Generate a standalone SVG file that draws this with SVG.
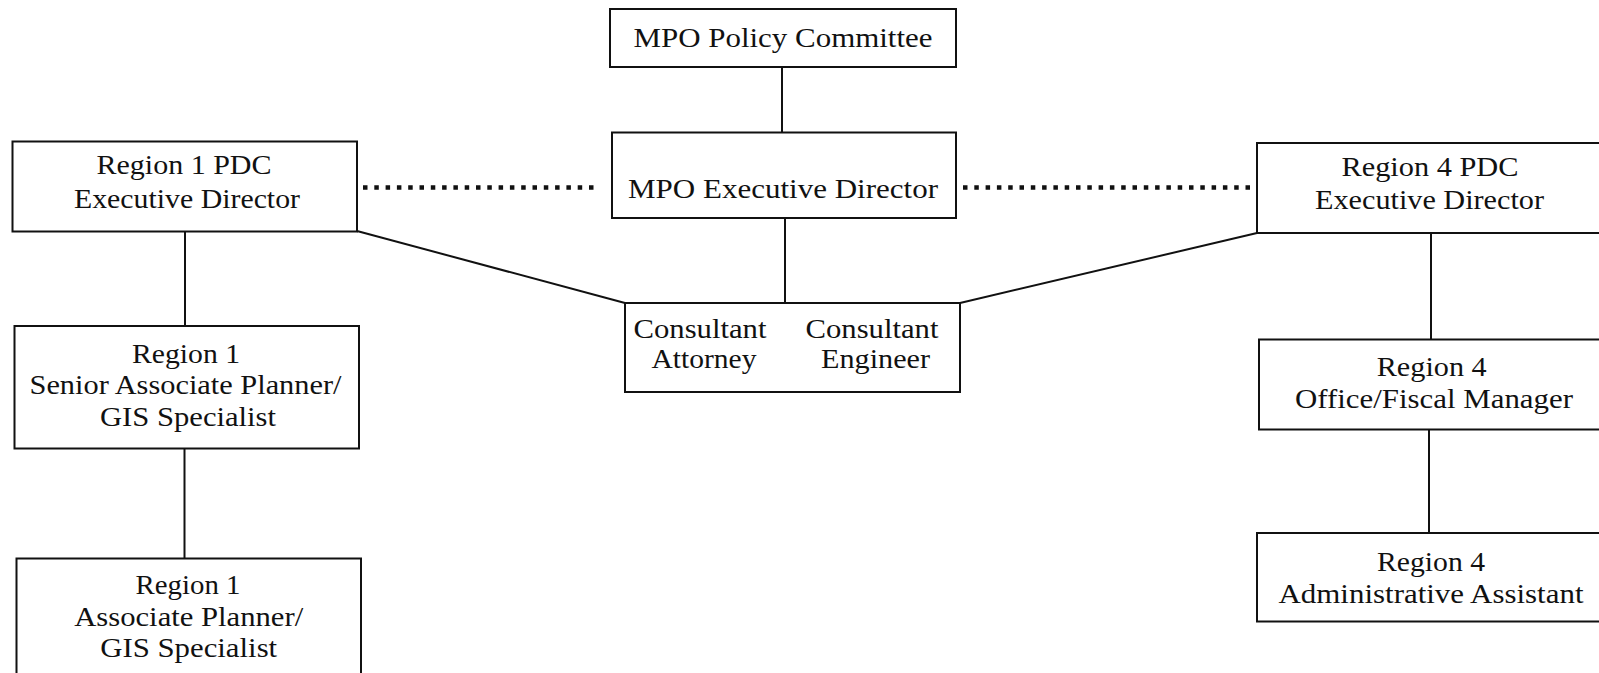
<svg xmlns="http://www.w3.org/2000/svg" width="1599" height="673" viewBox="0 0 1599 673">
<style>
.box{fill:#fff;stroke:#111;stroke-width:2}
.t{font-family:'Liberation Serif','Times New Roman',Tinos,'Nimbus Roman',Times,serif;font-size:27px;fill:#111;text-anchor:middle}
.c{stroke:#111;stroke-width:2;fill:none}
.d{stroke:#111;stroke-width:4.5;fill:none;stroke-dasharray:4.5 6.8}
</style>
<rect width="1599" height="673" fill="#fff"/>
<g id="connectors">
<line class="c" x1="782" y1="67" x2="782" y2="132"/>
<line class="c" x1="785" y1="218" x2="785" y2="303"/>
<line class="c" x1="185" y1="232" x2="185" y2="326"/>
<line class="c" x1="184.5" y1="448" x2="184.5" y2="559"/>
<line class="c" x1="1431" y1="233" x2="1431" y2="339"/>
<line class="c" x1="1429" y1="429" x2="1429" y2="533"/>
<line class="c" x1="357" y1="231" x2="625" y2="303"/>
<line class="c" x1="960" y1="303" x2="1257" y2="233"/>
<line class="d" x1="363" y1="187.5" x2="600" y2="187.5"/>
<line class="d" x1="963" y1="187.5" x2="1255" y2="187.5"/>
</g>
<g id="policy">
<rect class="box" x="610" y="9" width="346" height="58"/>
<text class="t" x="783" y="47" textLength="299" lengthAdjust="spacingAndGlyphs">MPO Policy Committee</text>
</g>
<g id="mpo-exec">
<rect class="box" x="612" y="132.5" width="344" height="85.5"/>
<text class="t" x="783" y="198" textLength="310" lengthAdjust="spacingAndGlyphs">MPO Executive Director</text>
</g>
<g id="r1-exec">
<rect class="box" x="12.5" y="141.5" width="344.5" height="90"/>
<text class="t" x="184" y="174" textLength="175" lengthAdjust="spacingAndGlyphs">Region 1 PDC</text>
<text class="t" x="187" y="208" textLength="226" lengthAdjust="spacingAndGlyphs">Executive Director</text>
</g>
<g id="r4-exec">
<rect class="box" x="1257" y="143" width="360" height="90"/>
<text class="t" x="1430" y="175.5" textLength="177" lengthAdjust="spacingAndGlyphs">Region 4 PDC</text>
<text class="t" x="1429.5" y="209" textLength="229" lengthAdjust="spacingAndGlyphs">Executive Director</text>
</g>
<g id="consultants">
<rect class="box" x="625" y="303" width="335" height="89"/>
<text class="t" x="700" y="338" textLength="133" lengthAdjust="spacingAndGlyphs">Consultant</text>
<text class="t" x="704" y="368" textLength="105" lengthAdjust="spacingAndGlyphs">Attorney</text>
<text class="t" x="872" y="338" textLength="133" lengthAdjust="spacingAndGlyphs">Consultant</text>
<text class="t" x="875.5" y="368" textLength="109" lengthAdjust="spacingAndGlyphs">Engineer</text>
</g>
<g id="r1-senior">
<rect class="box" x="14.5" y="326" width="344.5" height="122.5"/>
<text class="t" x="186" y="362.5" textLength="108" lengthAdjust="spacingAndGlyphs">Region 1</text>
<text class="t" x="185.5" y="394" textLength="312" lengthAdjust="spacingAndGlyphs">Senior Associate Planner/</text>
<text class="t" x="188" y="425.5" textLength="176" lengthAdjust="spacingAndGlyphs">GIS Specialist</text>
</g>
<g id="r1-associate">
<rect class="box" x="16.5" y="558.5" width="344.5" height="130"/>
<text class="t" x="188" y="594" textLength="105" lengthAdjust="spacingAndGlyphs">Region 1</text>
<text class="t" x="188.7" y="625.5" textLength="229" lengthAdjust="spacingAndGlyphs">Associate Planner/</text>
<text class="t" x="188.7" y="657" textLength="177" lengthAdjust="spacingAndGlyphs">GIS Specialist</text>
</g>
<g id="r4-office">
<rect class="box" x="1259" y="339.5" width="360" height="90"/>
<text class="t" x="1431.7" y="375.5" textLength="110" lengthAdjust="spacingAndGlyphs">Region 4</text>
<text class="t" x="1434" y="408" textLength="278" lengthAdjust="spacingAndGlyphs">Office/Fiscal Manager</text>
</g>
<g id="r4-admin">
<rect class="box" x="1257" y="533" width="360" height="88.5"/>
<text class="t" x="1431" y="570.5" textLength="108" lengthAdjust="spacingAndGlyphs">Region 4</text>
<text class="t" x="1431" y="602.5" textLength="305" lengthAdjust="spacingAndGlyphs">Administrative Assistant</text>
</g>
</svg>
